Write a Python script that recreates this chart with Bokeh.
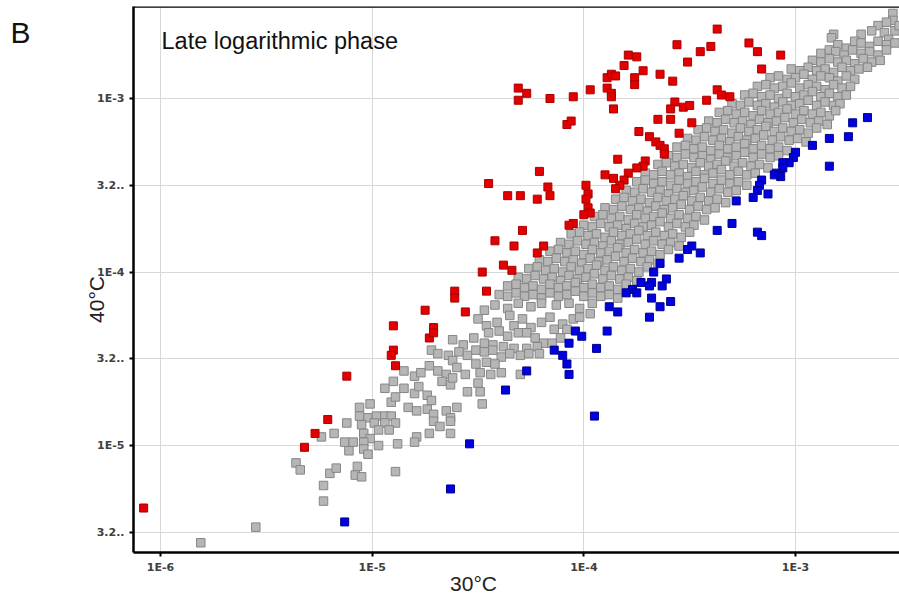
import math
from bokeh.plotting import figure
from bokeh.models import Range1d, FixedTicker, CustomJSTickFormatter, Label, Span
from bokeh.embed import file_html
from bokeh.resources import INLINE

# ---- tick values / labels ----
x_tick_values = [1e-6, 1e-5, 1e-4, 1e-3]
x_tick_labels = ["1E-6", "1E-5", "1E-4", "1E-3"]
y_tick_values = [3.16e-6, 1e-5, 3.16e-5, 1e-4, 3.16e-4, 1e-3]
y_tick_labels = ["3.2..", "1E-5", "3.2..", "1E-4", "3.2..", "1E-3"]

# ---- data: (log10 expression at 30°C, log10 expression at 40°C) ----
red_log10 = [
    (-3.37, -2.60), (-3.56, -2.69), (-3.40, -2.70), (-3.22, -2.68), (-3.45, -2.73), (-3.18, -2.73),
    (-3.07, -2.75), (-3.79, -2.75), (-3.75, -2.76), (-3.51, -2.79), (-3.81, -2.81), (-3.16, -2.83),
    (-3.72, -2.84), (-3.64, -2.86), (-3.89, -2.88), (-3.87, -2.86), (-3.85, -2.87), (-3.76, -2.88),
    (-3.76, -2.92), (-3.58, -2.90), (-4.31, -2.94), (-4.27, -2.97), (-4.31, -3.01), (-4.16, -3.00),
    (-4.05, -2.99), (-3.97, -2.95), (-3.89, -2.94), (-3.87, -2.97), (-3.87, -2.99), (-3.86, -3.06),
    (-3.37, -2.95), (-3.35, -2.98), (-3.31, -2.99), (-3.42, -3.01), (-3.57, -3.02), (-3.59, -3.06),
    (-3.53, -3.05), (-3.50, -3.04), (-3.65, -3.12), (-3.59, -3.12), (-3.49, -3.14), (-4.08, -3.15),
    (-4.06, -3.13), (-3.74, -3.19), (-3.55, -3.20), (-3.69, -3.22), (-3.66, -3.25), (-3.64, -3.27),
    (-3.62, -3.29), (-3.62, -3.32), (-3.84, -3.35), (-3.71, -3.36), (-3.72, -3.39), (-3.75, -3.40),
    (-3.79, -3.43), (-3.90, -3.44), (-3.86, -3.46), (-3.81, -3.47), (-3.83, -3.50), (-3.85, -3.52),
    (-4.21, -3.42), (-4.45, -3.49), (-4.36, -3.56), (-4.30, -3.56), (-4.22, -3.58), (-4.17, -3.51),
    (-4.16, -3.56), (-3.99, -3.50), (-3.98, -3.55), (-3.99, -3.58), (-3.98, -3.63), (-3.97, -3.66),
    (-4.00, -3.67), (-4.05, -3.72), (-4.07, -3.73), (-4.29, -3.76), (-4.42, -3.82), (-4.33, -3.85),
    (-4.19, -3.85), (-4.22, -3.89), (-4.38, -3.96), (-4.34, -3.99), (-4.48, -4.00), (-4.46, -4.11),
    (-4.61, -4.11), (-4.61, -4.15), (-4.56, -4.23), (-4.75, -4.22), (-4.71, -4.32), (-4.73, -4.38),
    (-4.71, -4.35), (-4.90, -4.31), (-4.90, -4.45), (-4.91, -4.48), (-4.89, -4.54), (-5.12, -4.60),
    (-5.21, -4.85), (-5.27, -4.93), (-5.32, -5.01), (-6.08, -5.36),
]

blue_log10 = [
    (-2.66, -3.11), (-2.73, -3.14), (-2.75, -3.22), (-2.84, -3.23), (-2.92, -3.27), (-2.84, -3.39),
    (-3.00, -3.31), (-3.01, -3.34), (-3.03, -3.37), (-3.06, -3.37), (-3.06, -3.40), (-3.09, -3.43),
    (-3.07, -3.45), (-3.10, -3.44), (-3.16, -3.47), (-3.17, -3.50), (-3.18, -3.53), (-3.20, -3.57),
    (-3.13, -3.55), (-3.28, -3.59), (-3.30, -3.72), (-3.37, -3.76), (-3.18, -3.77), (-3.16, -3.79),
    (-3.51, -3.87), (-3.49, -3.85), (-3.45, -3.89), (-3.55, -3.92), (-3.64, -3.95), (-3.67, -4.00),
    (-3.61, -4.04), (-3.68, -4.06), (-3.69, -4.08), (-3.63, -4.08), (-3.73, -4.06), (-3.77, -4.10),
    (-3.75, -4.12), (-3.80, -4.12), (-3.68, -4.15), (-3.59, -4.17), (-3.64, -4.20), (-3.88, -4.20),
    (-3.84, -4.23), (-3.69, -4.26), (-3.89, -4.34), (-4.04, -4.34), (-4.01, -4.37), (-4.07, -4.41),
    (-3.94, -4.44), (-4.14, -4.45), (-4.10, -4.48), (-4.08, -4.53), (-4.07, -4.59), (-4.27, -4.57),
    (-4.37, -4.68), (-3.95, -4.83), (-4.54, -4.99), (-4.63, -5.25), (-5.13, -5.44),
]

gray_log10 = [
    # top of the cloud
    (-2.54, -2.51), (-2.54, -2.55), (-2.61, -2.58), (-2.58, -2.62), (-2.53, -2.61), (-2.82, -2.63),
    (-2.83, -2.65), (-2.69, -2.63), (-2.56, -2.66), (-2.57, -2.56), (-2.51, -2.58), (-2.64, -2.61),
    # dense band
    (-2.80, -2.69), (-2.76, -2.71), (-2.72, -2.67), (-2.69, -2.68), (-2.65, -2.70), (-2.61, -2.67),
    (-2.57, -2.69), (-2.53, -2.68),
    (-2.88, -2.74), (-2.84, -2.72), (-2.81, -2.73), (-2.77, -2.75), (-2.73, -2.72), (-2.69, -2.74),
    (-2.65, -2.73), (-2.61, -2.75), (-2.57, -2.72),
    (-2.92, -2.78), (-2.88, -2.79), (-2.84, -2.77), (-2.80, -2.79), (-2.76, -2.78), (-2.72, -2.80),
    (-2.68, -2.77), (-2.64, -2.79), (-2.60, -2.78),
    (-3.02, -2.83), (-2.98, -2.84), (-2.94, -2.82), (-2.90, -2.84), (-2.86, -2.83), (-2.82, -2.85),
    (-2.78, -2.82), (-2.74, -2.84), (-2.70, -2.83), (-2.66, -2.82),
    (-3.12, -2.88), (-3.08, -2.87), (-3.04, -2.89), (-3.00, -2.88), (-2.96, -2.86), (-2.92, -2.89),
    (-2.88, -2.87), (-2.84, -2.88), (-2.80, -2.90), (-2.76, -2.87), (-2.72, -2.89),
    (-3.18, -2.93), (-3.14, -2.92), (-3.10, -2.94), (-3.06, -2.93), (-3.02, -2.91), (-2.98, -2.94),
    (-2.94, -2.92), (-2.90, -2.93), (-2.86, -2.95), (-2.82, -2.92), (-2.78, -2.94), (-2.74, -2.93),
    (-3.24, -2.98), (-3.20, -2.97), (-3.16, -2.99), (-3.12, -2.98), (-3.08, -3.00), (-3.04, -2.97),
    (-3.00, -2.99), (-2.96, -2.98), (-2.92, -2.96), (-2.88, -2.99), (-2.84, -2.97), (-2.80, -2.99),
    (-2.76, -2.98),
    (-3.30, -3.03), (-3.26, -3.04), (-3.22, -3.02), (-3.18, -3.04), (-3.14, -3.03), (-3.10, -3.05),
    (-3.06, -3.02), (-3.02, -3.04), (-2.98, -3.03), (-2.94, -3.01), (-2.90, -3.04), (-2.86, -3.02),
    (-2.82, -3.04), (-2.79, -3.03),
    (-3.36, -3.08), (-3.32, -3.07), (-3.28, -3.09), (-3.24, -3.08), (-3.20, -3.10), (-3.16, -3.07),
    (-3.12, -3.09), (-3.08, -3.08), (-3.04, -3.06), (-3.00, -3.09), (-2.96, -3.07), (-2.92, -3.09),
    (-2.88, -3.08), (-2.84, -3.10), (-2.81, -3.07),
    (-3.41, -3.13), (-3.37, -3.14), (-3.33, -3.12), (-3.29, -3.14), (-3.25, -3.13), (-3.21, -3.15),
    (-3.17, -3.12), (-3.13, -3.14), (-3.09, -3.13), (-3.05, -3.11), (-3.01, -3.14), (-2.97, -3.12),
    (-2.93, -3.14), (-2.89, -3.13), (-2.85, -3.15),
    (-3.46, -3.18), (-3.42, -3.17), (-3.38, -3.19), (-3.34, -3.18), (-3.30, -3.20), (-3.26, -3.17),
    (-3.22, -3.19), (-3.18, -3.18), (-3.14, -3.16), (-3.10, -3.19), (-3.06, -3.17), (-3.02, -3.19),
    (-2.98, -3.18), (-2.94, -3.20), (-2.90, -3.17),
    (-3.51, -3.23), (-3.47, -3.24), (-3.43, -3.22), (-3.39, -3.24), (-3.35, -3.23), (-3.31, -3.25),
    (-3.27, -3.22), (-3.23, -3.24), (-3.19, -3.23), (-3.15, -3.21), (-3.11, -3.24), (-3.07, -3.22),
    (-3.03, -3.24), (-2.99, -3.23), (-2.95, -3.25),
    (-3.56, -3.28), (-3.52, -3.27), (-3.48, -3.29), (-3.44, -3.28), (-3.40, -3.30), (-3.36, -3.27),
    (-3.32, -3.29), (-3.28, -3.28), (-3.24, -3.26), (-3.20, -3.29), (-3.16, -3.27), (-3.12, -3.29),
    (-3.08, -3.28), (-3.04, -3.30),
    (-3.60, -3.33), (-3.56, -3.34), (-3.52, -3.32), (-3.48, -3.34), (-3.44, -3.33), (-3.40, -3.35),
    (-3.36, -3.32), (-3.32, -3.34), (-3.28, -3.33), (-3.24, -3.31), (-3.20, -3.34), (-3.16, -3.32),
    (-3.12, -3.34), (-3.08, -3.33),
    (-3.65, -3.38), (-3.61, -3.37), (-3.57, -3.39), (-3.53, -3.38), (-3.49, -3.40), (-3.45, -3.37),
    (-3.41, -3.39), (-3.37, -3.38), (-3.33, -3.36), (-3.29, -3.39), (-3.25, -3.37), (-3.21, -3.39),
    (-3.17, -3.38), (-3.13, -3.40),
    (-3.71, -3.43), (-3.67, -3.44), (-3.63, -3.42), (-3.59, -3.44), (-3.55, -3.43), (-3.51, -3.45),
    (-3.47, -3.42), (-3.43, -3.44), (-3.39, -3.43), (-3.35, -3.41), (-3.31, -3.44), (-3.27, -3.42),
    (-3.23, -3.44), (-3.19, -3.43),
    (-3.75, -3.48), (-3.71, -3.47), (-3.67, -3.49), (-3.63, -3.48), (-3.59, -3.50), (-3.55, -3.47),
    (-3.51, -3.49), (-3.47, -3.48), (-3.43, -3.46), (-3.39, -3.49), (-3.35, -3.47), (-3.31, -3.49),
    (-3.27, -3.48), (-3.23, -3.50),
    (-3.80, -3.53), (-3.76, -3.54), (-3.72, -3.52), (-3.68, -3.54), (-3.64, -3.53), (-3.60, -3.55),
    (-3.56, -3.52), (-3.52, -3.54), (-3.48, -3.53), (-3.44, -3.51), (-3.40, -3.54), (-3.36, -3.52),
    (-3.32, -3.54), (-3.28, -3.53),
    (-3.85, -3.58), (-3.81, -3.57), (-3.77, -3.59), (-3.73, -3.58), (-3.69, -3.60), (-3.65, -3.57),
    (-3.61, -3.59), (-3.57, -3.58), (-3.53, -3.56), (-3.49, -3.59), (-3.45, -3.57), (-3.41, -3.59),
    (-3.37, -3.58), (-3.33, -3.60),
    (-3.90, -3.63), (-3.86, -3.64), (-3.82, -3.62), (-3.78, -3.64), (-3.74, -3.63), (-3.70, -3.65),
    (-3.66, -3.62), (-3.62, -3.64), (-3.58, -3.63), (-3.54, -3.61), (-3.50, -3.64), (-3.46, -3.62),
    (-3.42, -3.64), (-3.38, -3.63),
    (-3.95, -3.68), (-3.91, -3.67), (-3.87, -3.69), (-3.83, -3.68), (-3.79, -3.70), (-3.75, -3.67),
    (-3.71, -3.69), (-3.67, -3.68), (-3.63, -3.66), (-3.59, -3.69), (-3.55, -3.67), (-3.51, -3.69),
    (-3.47, -3.68), (-3.43, -3.70),
    (-4.00, -3.73), (-3.96, -3.74), (-3.92, -3.72), (-3.88, -3.74), (-3.84, -3.73), (-3.80, -3.75),
    (-3.76, -3.72), (-3.72, -3.74), (-3.68, -3.73), (-3.64, -3.71), (-3.60, -3.74), (-3.56, -3.72),
    (-3.52, -3.74), (-3.48, -3.73),
    (-4.06, -3.78), (-4.02, -3.77), (-3.98, -3.79), (-3.94, -3.78), (-3.90, -3.80), (-3.86, -3.77),
    (-3.82, -3.79), (-3.78, -3.78), (-3.74, -3.76), (-3.70, -3.79), (-3.66, -3.77), (-3.62, -3.79),
    (-3.58, -3.78), (-3.54, -3.80), (-3.50, -3.77),
    (-4.11, -3.83), (-4.07, -3.84), (-4.03, -3.82), (-3.99, -3.84), (-3.95, -3.83), (-3.91, -3.85),
    (-3.87, -3.82), (-3.83, -3.84), (-3.79, -3.83), (-3.75, -3.81), (-3.71, -3.84), (-3.67, -3.82),
    (-3.63, -3.84), (-3.59, -3.83), (-3.55, -3.85),
    (-4.16, -3.88), (-4.12, -3.87), (-4.08, -3.89), (-4.04, -3.88), (-4.00, -3.90), (-3.96, -3.87),
    (-3.92, -3.89), (-3.88, -3.88), (-3.84, -3.86), (-3.80, -3.89), (-3.76, -3.87), (-3.72, -3.89),
    (-3.68, -3.88), (-3.64, -3.90), (-3.60, -3.87),
    (-4.21, -3.93), (-4.17, -3.94), (-4.13, -3.92), (-4.09, -3.94), (-4.05, -3.93), (-4.01, -3.95),
    (-3.97, -3.92), (-3.93, -3.94), (-3.89, -3.93), (-3.85, -3.91), (-3.81, -3.94), (-3.77, -3.92),
    (-3.73, -3.94), (-3.69, -3.93), (-3.65, -3.95),
    (-4.26, -3.98), (-4.22, -3.97), (-4.18, -3.99), (-4.14, -3.98), (-4.10, -4.00), (-4.06, -3.97),
    (-4.02, -3.99), (-3.98, -3.98), (-3.94, -3.96), (-3.90, -3.99), (-3.86, -3.97), (-3.82, -3.99),
    (-3.78, -3.98), (-3.74, -4.00), (-3.70, -3.97),
    (-4.31, -4.03), (-4.27, -4.04), (-4.23, -4.02), (-4.19, -4.04), (-4.15, -4.03), (-4.11, -4.05),
    (-4.07, -4.02), (-4.03, -4.04), (-3.99, -4.03), (-3.95, -4.01), (-3.91, -4.04), (-3.87, -4.02),
    (-3.83, -4.04), (-3.79, -4.03), (-3.75, -4.05),
    (-4.36, -4.08), (-4.32, -4.07), (-4.28, -4.09), (-4.24, -4.08), (-4.20, -4.10), (-4.16, -4.07),
    (-4.12, -4.09), (-4.08, -4.08), (-4.04, -4.06), (-4.00, -4.09), (-3.96, -4.07), (-3.92, -4.09),
    (-3.88, -4.08), (-3.84, -4.10), (-3.80, -4.07),
    (-4.40, -4.13), (-4.36, -4.14), (-4.32, -4.12), (-4.28, -4.14), (-4.24, -4.13), (-4.20, -4.15),
    (-4.16, -4.12), (-4.12, -4.14), (-4.08, -4.13), (-4.04, -4.11), (-4.00, -4.14), (-3.96, -4.12),
    (-3.92, -4.14), (-3.88, -4.13), (-3.84, -4.15),
    # sparser lower part
    (-4.47, -4.22), (-4.42, -4.19), (-4.36, -4.21), (-4.31, -4.18), (-4.25, -4.20), (-4.20, -4.18),
    (-4.13, -4.19), (-4.07, -4.18), (-4.02, -4.21), (-3.96, -4.18),
    (-4.50, -4.27), (-4.46, -4.31), (-4.41, -4.29), (-4.35, -4.25), (-4.33, -4.31), (-4.29, -4.27),
    (-4.25, -4.32), (-4.20, -4.29), (-4.16, -4.26), (-4.14, -4.33), (-4.10, -4.30), (-4.05, -4.27),
    (-4.02, -4.26), (-3.97, -4.24),
    (-4.62, -4.39), (-4.57, -4.42), (-4.52, -4.38), (-4.47, -4.41), (-4.45, -4.35), (-4.40, -4.34),
    (-4.36, -4.37), (-4.31, -4.35), (-4.27, -4.35), (-4.23, -4.38), (-4.19, -4.41), (-4.15, -4.41),
    (-4.11, -4.38), (-4.08, -4.33), (-4.43, -4.42), (-4.38, -4.43), (-4.33, -4.44), (-4.27, -4.44),
    (-4.22, -4.43),
    (-4.72, -4.45), (-4.69, -4.47), (-4.64, -4.48), (-4.59, -4.46), (-4.55, -4.48), (-4.51, -4.45),
    (-4.47, -4.46), (-4.43, -4.45), (-4.39, -4.49), (-4.35, -4.47), (-4.30, -4.48), (-4.26, -4.47),
    (-4.21, -4.47), (-4.62, -4.51),
    (-4.85, -4.57), (-4.80, -4.60), (-4.77, -4.58), (-4.73, -4.54), (-4.69, -4.57), (-4.65, -4.59),
    (-4.60, -4.55), (-4.56, -4.59), (-4.51, -4.53), (-4.46, -4.52), (-4.42, -4.53), (-4.49, -4.58),
    (-4.44, -4.59), (-4.39, -4.58), (-4.30, -4.59),
    (-4.94, -4.67), (-4.90, -4.63), (-4.85, -4.67), (-4.80, -4.70), (-4.78, -4.66), (-4.74, -4.71),
    (-4.67, -4.63), (-4.63, -4.65), (-4.62, -4.61), (-4.55, -4.69), (-4.50, -4.64), (-4.49, -4.69),
    (-5.06, -4.78), (-5.01, -4.76), (-4.91, -4.75), (-4.89, -4.72), (-4.83, -4.78), (-4.79, -4.80),
    (-4.74, -4.79), (-4.72, -4.74), (-4.65, -4.80), (-4.60, -4.78), (-4.48, -4.76), (-5.06, -4.83),
    (-5.02, -4.84), (-4.98, -4.83), (-4.94, -4.83), (-4.91, -4.83), (-4.71, -4.82), (-4.63, -4.84),
    (-5.24, -4.95), (-5.18, -4.93), (-5.12, -4.87), (-5.05, -4.88), (-4.99, -4.87), (-4.94, -4.87),
    (-4.89, -4.87), (-5.04, -4.93), (-4.97, -4.91), (-4.92, -4.91), (-5.01, -4.96), (-4.79, -4.95),
    (-4.73, -4.93), (-4.71, -4.86), (-4.68, -4.89), (-4.63, -4.93), (-4.63, -4.86),
    (-5.13, -4.98), (-5.09, -4.98), (-5.11, -5.03), (-5.04, -4.98), (-5.04, -5.02), (-5.02, -5.05),
    (-4.97, -5.00), (-4.88, -4.99), (-4.80, -4.98),
    (-5.36, -5.10), (-5.34, -5.14), (-5.20, -5.16), (-5.17, -5.13), (-5.07, -5.12), (-5.08, -5.17),
    (-5.05, -5.18), (-4.89, -5.15), (-5.23, -5.23), (-5.23, -5.32),
    (-5.55, -5.47), (-5.81, -5.56),
]

# axis extents read from the frame edges
x_range_ends = (7.45e-7, 3.10e-3)
y_range_ends = (2.42e-6, 3.39e-3)


def to_xy(pairs):
    return [10 ** a for a, b in pairs], [10 ** b for a, b in pairs]


gx, gy = to_xy(gray_log10)
rx, ry = to_xy(red_log10)
bx, by = to_xy(blue_log10)

p = figure(width=899, height=599, x_axis_type="log", y_axis_type="log",
           x_range=Range1d(*x_range_ends), y_range=Range1d(*y_range_ends),
           output_backend="svg", toolbar_location=None,
           min_border_left=133, min_border_right=0, min_border_top=6, min_border_bottom=47)
p.outline_line_color = None
p.background_fill_color = "white"
p.border_fill_color = "white"

fmt_code = """
for (let i = 0; i < vals.length; i++) {
  if (Math.abs(tick / vals[i] - 1) < 1e-3) { return labs[i]; }
}
return "";
"""
p.xaxis.ticker = FixedTicker(ticks=x_tick_values)
p.yaxis.ticker = FixedTicker(ticks=y_tick_values)
p.xaxis.formatter = CustomJSTickFormatter(args=dict(vals=x_tick_values, labs=x_tick_labels), code=fmt_code)
p.yaxis.formatter = CustomJSTickFormatter(args=dict(vals=y_tick_values, labs=y_tick_labels), code=fmt_code)

for ax in (p.xaxis[0], p.yaxis[0]):
    ax.axis_line_color = "black"
    ax.axis_line_width = 2.5
    ax.major_tick_line_color = "black"
    ax.major_tick_line_width = 2
    ax.major_tick_out = 4
    ax.major_tick_in = 0
    ax.minor_tick_line_color = None
    ax.major_label_text_font = "DejaVu Sans"
    ax.major_label_text_font_style = "bold"
    ax.major_label_text_font_size = "11px"
    ax.major_label_text_color = "#404040"
p.xaxis.major_label_standoff = 4
p.yaxis.major_label_standoff = 5

p.grid.grid_line_color = "#d8d8d8"
p.grid.grid_line_width = 1

p.add_layout(Span(location=y_range_ends[1], dimension="width", line_color="black", line_width=2.5))

p.scatter(gx, gy, marker="square", size=8.5, fill_color="#b6b6b6", line_color="#868686", line_width=1)
p.scatter(rx, ry, marker="square", size=8, fill_color="#e30000", line_color="#a80000", line_width=1)
p.scatter(bx, by, marker="square", size=8, fill_color="#0000e0", line_color="#00008c", line_width=1)

font = "Liberation Sans"
# panel text inside the frame
p.add_layout(Label(x=28, y=512, x_units="screen", y_units="screen", text="Late logarithmic phase",
                   text_font=font, text_font_size="23.5px", text_color="#111111",
                   text_align="left", text_baseline="middle"))
# x-axis title in the panel below
p.add_layout(Label(x=340, y=16, x_units="screen", y_units="screen", text="30°C",
                   text_font=font, text_font_size="21px", text_color="#222222",
                   text_align="center", text_baseline="middle"), "below")
# texts in the left margin
p.add_layout(Label(x=26, y=253, x_units="screen", y_units="screen", text="40°C",
                   angle=math.pi / 2, text_font=font, text_font_size="21px", text_color="#222222",
                   text_align="center", text_baseline="middle"), "left")
p.add_layout(Label(x=-40, y=520, x_units="screen", y_units="screen", text="B",
                   text_font=font, text_font_size="30px", text_color="#111111",
                   text_align="left", text_baseline="middle"), "left")

open("out.html", "w").write(file_html(p, INLINE))
